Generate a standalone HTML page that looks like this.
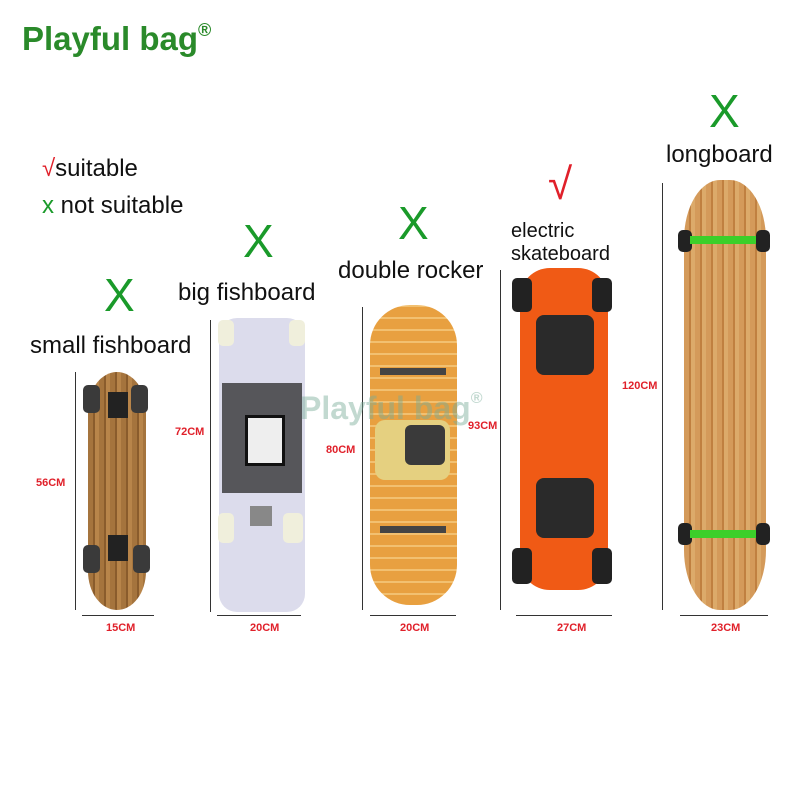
<!DOCTYPE html>
<html><head><style>
body{margin:0;width:800px;height:800px;background:#fff;position:relative;overflow:hidden;font-family:"Liberation Sans",sans-serif}
.a{position:absolute}
.t{position:absolute;font-size:24px;color:#111;white-space:nowrap}
.x{position:absolute;color:#1a9a2a;font-size:46px;font-family:"Liberation Sans",sans-serif;line-height:1}
.r{position:absolute;color:#e0202a;font-size:11px;font-weight:bold}
.vl{position:absolute;width:1px;background:#333}
.hl{position:absolute;height:1px;background:#333}
.w{position:absolute;background:#3a3a3a;border-radius:5px}
</style></head><body>
<div class="a" style="left:22px;top:20px;font-size:33px;font-weight:bold;color:#2a8a2a">Playful bag<span style="font-size:18px;vertical-align:top">®</span></div>
<div class="t" style="left:42px;top:155px"><span style="color:#e0202a">√</span>suitable</div>
<div class="t" style="left:42px;top:192px"><span style="color:#1a9a2a">x</span> not suitable</div>

<div class="x" style="left:104px;top:272px">X</div>
<div class="x" style="left:243px;top:218px">X</div>
<div class="x" style="left:398px;top:200px">X</div>
<div class="a" style="left:548px;top:160px;color:#e0202a;font-size:44px">√</div>
<div class="x" style="left:709px;top:88px">X</div>

<div class="t" style="left:30px;top:332px">small fishboard</div>
<div class="t" style="left:178px;top:279px">big fishboard</div>
<div class="t" style="left:338px;top:257px">double rocker</div>
<div class="t" style="left:511px;top:220px;font-size:20px;line-height:23px">electric<br>skateboard</div>
<div class="t" style="left:666px;top:141px">longboard</div>

<!-- board1 -->
<div class="a" style="left:88px;top:372px;width:58px;height:238px;border-radius:30px/40px;background:repeating-linear-gradient(90deg,#a5743d 0 5px,#8a5c2c 5px 7px,#b8854a 7px 11px)"></div>
<div class="w" style="left:83px;top:385px;width:17px;height:28px"></div><div class="w" style="left:131px;top:385px;width:17px;height:28px"></div>
<div class="a" style="left:108px;top:392px;width:20px;height:26px;background:#222"></div>
<div class="w" style="left:83px;top:545px;width:17px;height:28px"></div><div class="w" style="left:133px;top:545px;width:17px;height:28px"></div>
<div class="a" style="left:108px;top:535px;width:20px;height:26px;background:#222"></div>
<div class="vl" style="left:75px;top:372px;height:238px"></div>
<div class="r" style="left:36px;top:477px">56CM</div>
<div class="hl" style="left:82px;top:615px;width:72px"></div>
<div class="r" style="left:106px;top:622px">15CM</div>

<!-- board2 -->
<div class="a" style="left:219px;top:318px;width:86px;height:294px;border-radius:18px;background:#dcdcec"></div>
<div class="a" style="left:222px;top:383px;width:80px;height:110px;background:#2a2a2a;opacity:.75"></div>
<div class="a" style="left:245px;top:415px;width:34px;height:45px;background:#eee;border:3px solid #111"></div>
<div class="w" style="left:218px;top:320px;width:16px;height:26px;background:#f0efdc"></div><div class="w" style="left:289px;top:320px;width:16px;height:26px;background:#f0efdc"></div>
<div class="w" style="left:218px;top:513px;width:16px;height:30px;background:#f0efdc"></div><div class="w" style="left:283px;top:513px;width:20px;height:30px;background:#f0efdc"></div>
<div class="a" style="left:250px;top:506px;width:22px;height:20px;background:#888"></div>
<div class="vl" style="left:210px;top:320px;height:292px"></div>
<div class="r" style="left:175px;top:426px">72CM</div>
<div class="hl" style="left:217px;top:615px;width:84px"></div>
<div class="r" style="left:250px;top:622px">20CM</div>

<!-- board3 -->
<div class="a" style="left:370px;top:305px;width:87px;height:300px;border-radius:40px;background:repeating-linear-gradient(0deg,#e8a040 0 10px,#f2c070 10px 12px)"></div>
<div class="a" style="left:375px;top:420px;width:75px;height:60px;background:#e5d080;border-radius:10px"></div>
<div class="a" style="left:405px;top:425px;width:40px;height:40px;background:#3a3a3a;border-radius:6px"></div>
<div class="a" style="left:380px;top:368px;width:66px;height:7px;background:#444"></div>
<div class="a" style="left:380px;top:526px;width:66px;height:7px;background:#444"></div>
<div class="vl" style="left:362px;top:307px;height:303px"></div>
<div class="r" style="left:326px;top:444px">80CM</div>
<div class="hl" style="left:370px;top:615px;width:86px"></div>
<div class="r" style="left:400px;top:622px">20CM</div>

<!-- board4 -->
<div class="a" style="left:520px;top:268px;width:88px;height:322px;border-radius:30px;background:#f05a15"></div>
<div class="a" style="left:536px;top:315px;width:58px;height:60px;background:#2a2a2a;border-radius:8px"></div>
<div class="a" style="left:536px;top:478px;width:58px;height:60px;background:#2a2a2a;border-radius:8px"></div>
<div class="w" style="left:512px;top:278px;width:20px;height:34px;background:#222"></div><div class="w" style="left:592px;top:278px;width:20px;height:34px;background:#222"></div>
<div class="w" style="left:512px;top:548px;width:20px;height:36px;background:#222"></div><div class="w" style="left:592px;top:548px;width:20px;height:36px;background:#222"></div>
<div class="vl" style="left:500px;top:270px;height:340px"></div>
<div class="r" style="left:468px;top:420px">93CM</div>
<div class="hl" style="left:516px;top:615px;width:96px"></div>
<div class="r" style="left:557px;top:622px">27CM</div>

<!-- board5 -->
<div class="a" style="left:684px;top:180px;width:82px;height:430px;border-radius:36px/60px;background:repeating-linear-gradient(90deg,#d49a5a 0 5px,#c08040 5px 7px,#dcaa6a 7px 11px)"></div>
<div class="w" style="left:678px;top:230px;width:14px;height:22px;background:#222"></div><div class="w" style="left:756px;top:230px;width:14px;height:22px;background:#222"></div>
<div class="a" style="left:690px;top:236px;width:66px;height:8px;background:#3ccf2a"></div>
<div class="w" style="left:678px;top:523px;width:14px;height:22px;background:#222"></div><div class="w" style="left:756px;top:523px;width:14px;height:22px;background:#222"></div>
<div class="a" style="left:690px;top:530px;width:66px;height:8px;background:#3ccf2a"></div>
<div class="vl" style="left:662px;top:183px;height:427px"></div>
<div class="r" style="left:622px;top:380px">120CM</div>
<div class="hl" style="left:680px;top:615px;width:88px"></div>
<div class="r" style="left:711px;top:622px">23CM</div>

<div class="a" style="left:300px;top:390px;font-size:32px;font-weight:bold;color:rgba(120,170,150,.45)">Playful bag<span style="font-size:16px;vertical-align:top">®</span></div>
</body></html>
